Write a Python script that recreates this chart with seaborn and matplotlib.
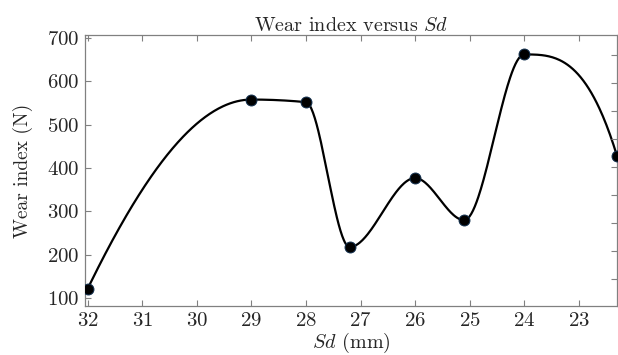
import numpy as np
import pandas as pd
import seaborn as sns
import matplotlib.pyplot as plt

# data
sd = [32.0, 29.0, 28.0, 27.2, 26.0, 25.1, 24.0, 22.3]
wear = [122, 558, 552, 218, 377, 280, 662, 428]
yticks = [100, 200, 300, 400, 500, 600, 700]
xticks = [32, 31, 30, 29, 28, 27, 26, 25, 24, 23]


def pchip(x, y, xs):
    x = np.asarray(x, float)
    y = np.asarray(y, float)
    h = np.diff(x)
    d = np.diff(y) / h
    n = len(x)
    m = np.zeros(n)
    for k in range(1, n - 1):
        if d[k - 1] * d[k] > 0:
            w1 = 2 * h[k] + h[k - 1]
            w2 = h[k] + 2 * h[k - 1]
            m[k] = (w1 + w2) / (w1 / d[k - 1] + w2 / d[k])

    def end(h0, h1, d0, d1):
        s = ((2 * h0 + h1) * d0 - h0 * d1) / (h0 + h1)
        if np.sign(s) != np.sign(d0):
            s = 0.0
        elif np.sign(d0) != np.sign(d1) and abs(s) > abs(3 * d0):
            s = 3 * d0
        return s

    m[0] = end(h[0], h[1], d[0], d[1])
    m[-1] = end(h[-1], h[-2], d[-1], d[-2])
    idx = np.clip(np.searchsorted(x, xs) - 1, 0, n - 2)
    t = (xs - x[idx]) / h[idx]
    h00 = 2 * t**3 - 3 * t**2 + 1
    h10 = t**3 - 2 * t**2 + t
    h01 = -2 * t**3 + 3 * t**2
    h11 = t**3 - t**2
    return (h00 * y[idx] + h10 * h[idx] * m[idx]
            + h01 * y[idx + 1] + h11 * h[idx] * m[idx + 1])


df = pd.DataFrame({'Sd': sd, 'Wear': wear}).sort_values('Sd')
xs = np.linspace(df['Sd'].min(), df['Sd'].max(), 600)
curve = pd.DataFrame({'Sd': xs, 'Wear': pchip(df['Sd'], df['Wear'], xs)})

sns.set_style('ticks')
plt.rcParams['font.family'] = ['cmr10', 'DejaVu Serif']
plt.rcParams['mathtext.fontset'] = 'cm'
plt.rcParams['axes.formatter.use_mathtext'] = True

fig = plt.figure(figsize=(6.18, 3.55), dpi=100)
ax = fig.add_axes([0.1375, 0.138, 0.8609, 0.7636])

sns.lineplot(data=curve, x='Sd', y='Wear', color='black', linewidth=1.6, ax=ax, sort=False)
sns.scatterplot(data=df, x='Sd', y='Wear', color='black', s=62, edgecolor='#12304f',
                linewidth=0.7, zorder=5, ax=ax)

ax.set_xlim(32.05, 22.3)
ax.set_ylim(82, 707)
ax.set_xticks(xticks)
ax.set_yticks(yticks)
ax.set_title('Wear index versus $Sd$', fontsize=14.5, pad=3)
ax.set_xlabel('$Sd$ (mm)', fontsize=14.5, labelpad=1)
ax.set_ylabel('Wear index (N)', fontsize=14, labelpad=10)
ax.tick_params(axis='both', labelsize=15, direction='in', color='#808080',
               length=4, width=0.8, pad=4)
ax.tick_params(axis='x', top=True)
for sp in ax.spines.values():
    sp.set_color('#808080')
    sp.set_linewidth(0.9)

# unlabelled right-hand ticks on their own scale
ax2 = ax.twinx()
ax2.set_ylim(0.036, 9.71)
ax2.set_yticks(range(1, 10))
ax2.tick_params(axis='y', direction='in', color='#808080', length=4, width=0.8,
                labelright=False)
for sp in ax2.spines.values():
    sp.set_visible(False)

fig.savefig('out.png', dpi=100)
